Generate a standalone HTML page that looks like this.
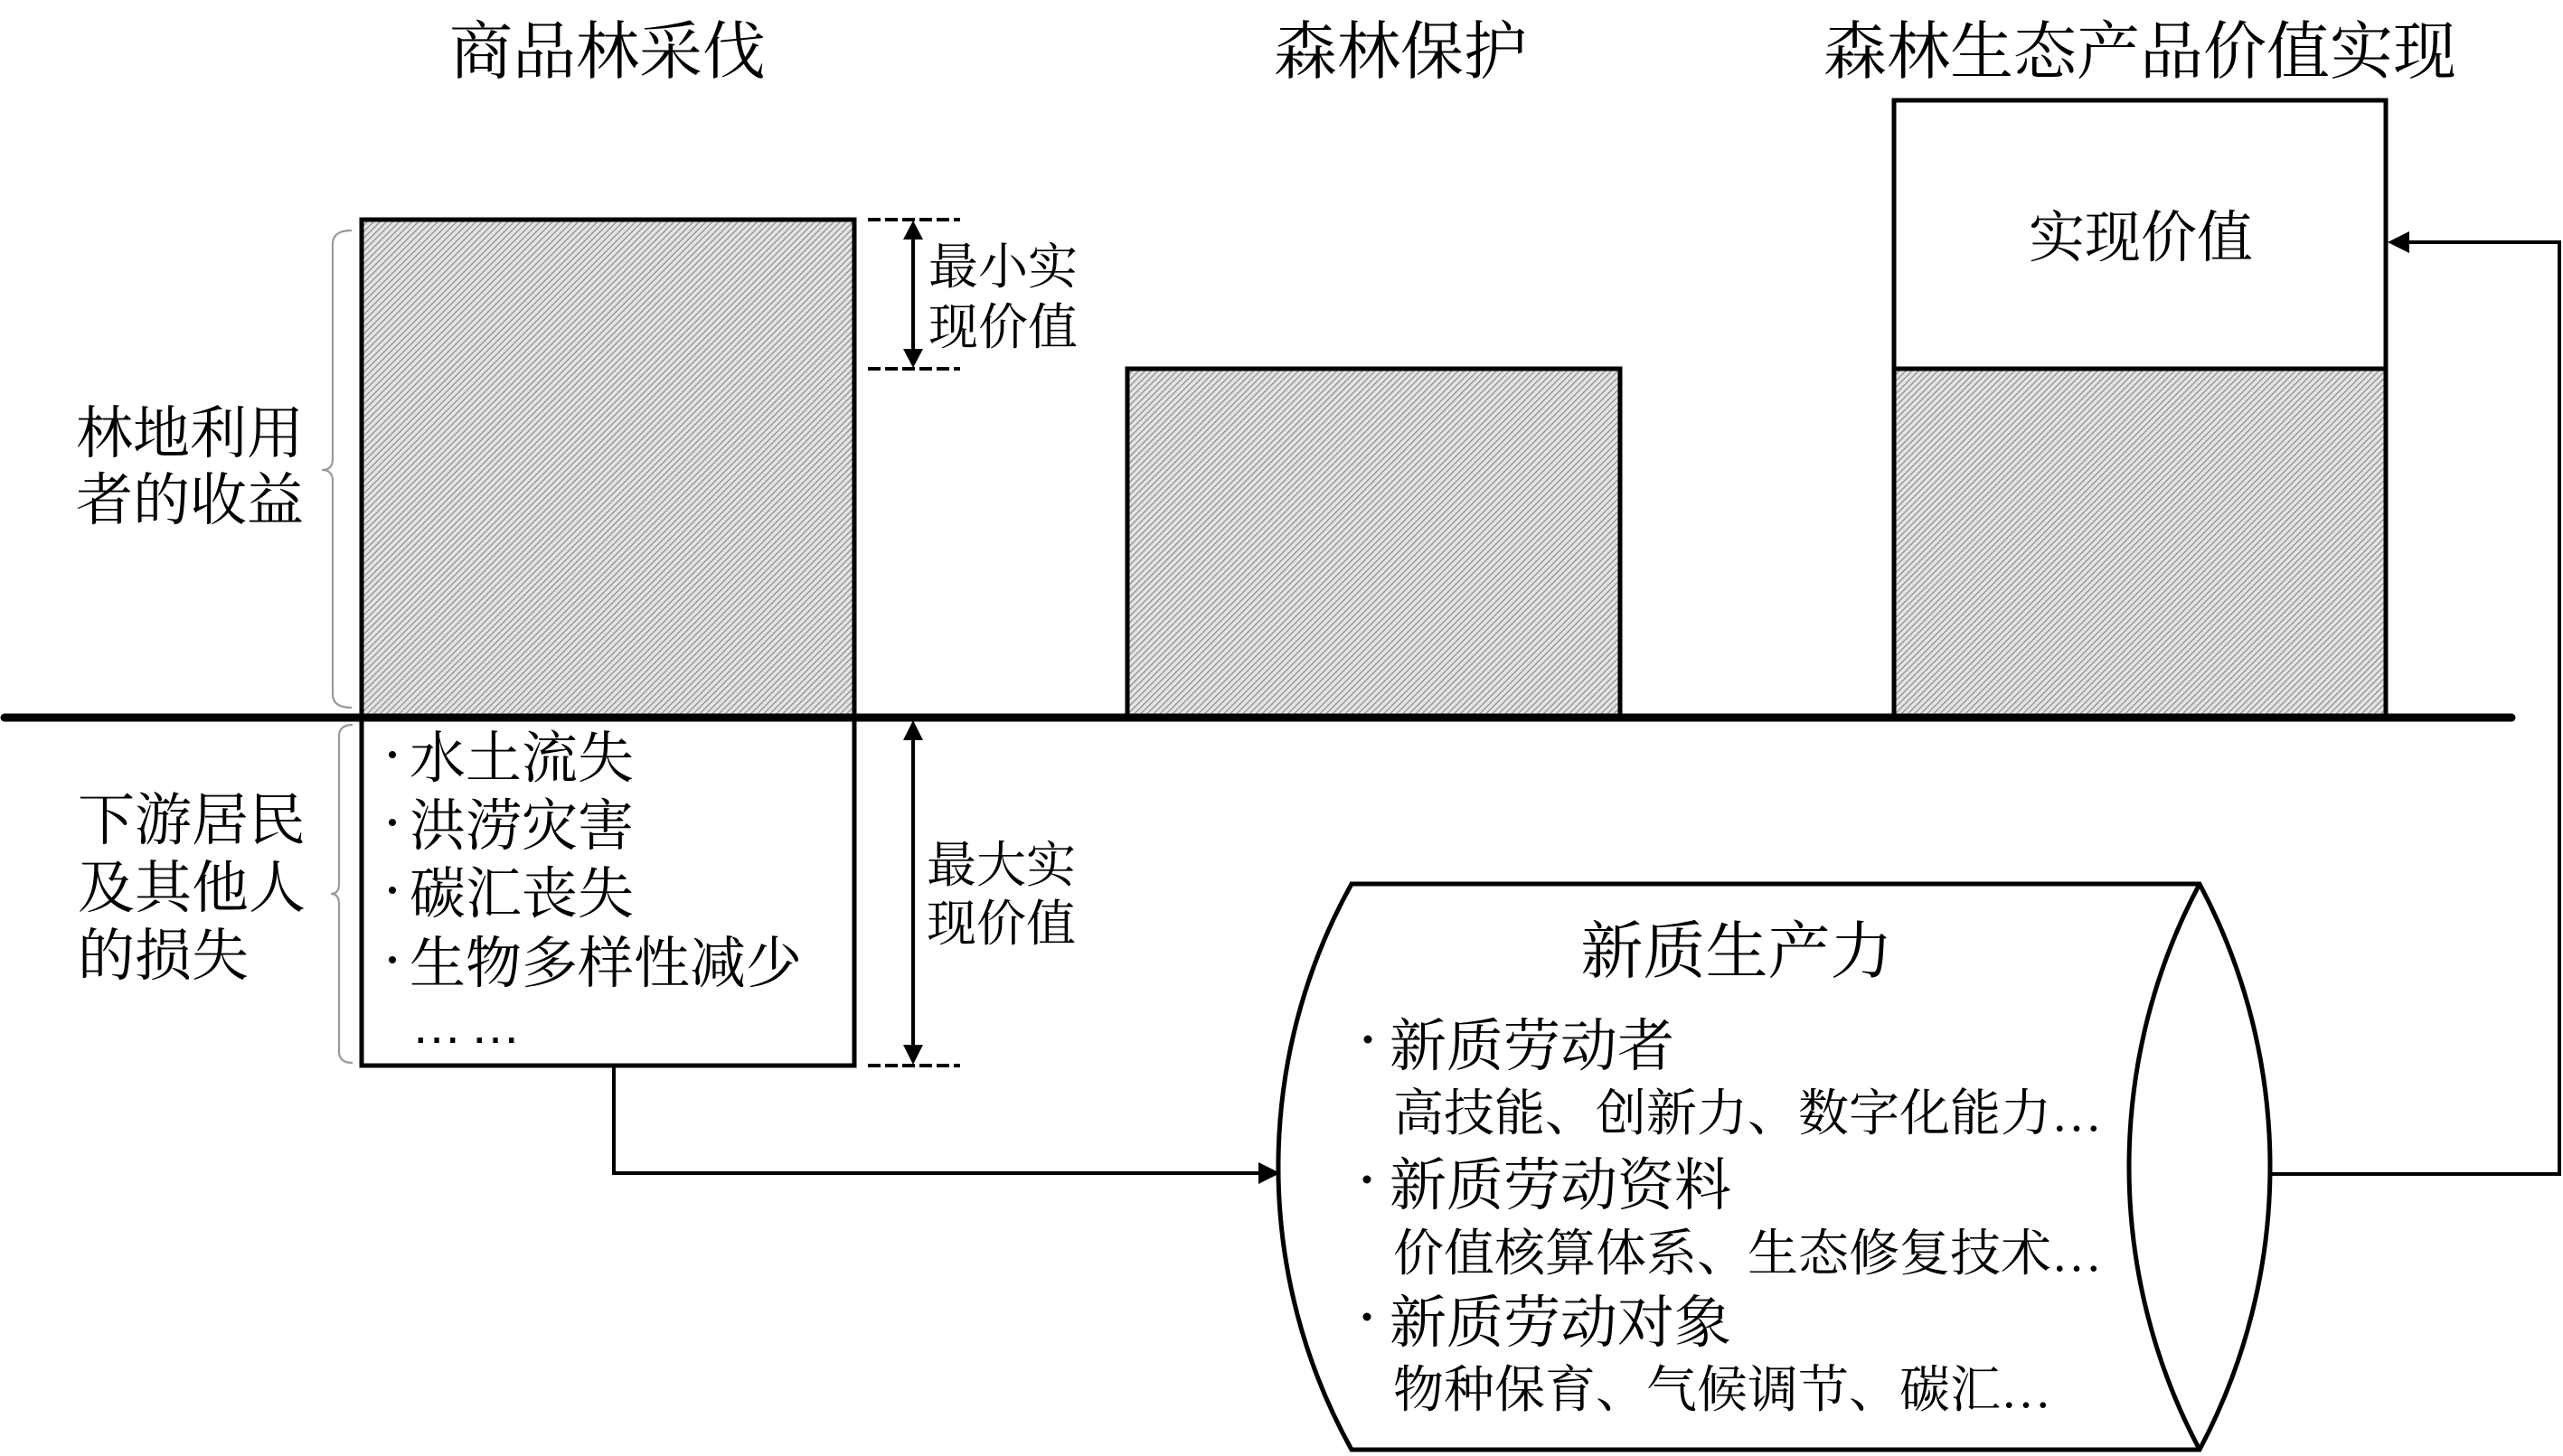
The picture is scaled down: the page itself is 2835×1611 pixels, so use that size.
<!DOCTYPE html>
<html>
<head>
<meta charset="utf-8">
<style>
  html, body { margin: 0; padding: 0; background: #ffffff; }
  svg { display: block; }
  .t { font-family: "Liberation Serif", "Noto Serif CJK SC", serif; fill: #000; }
</style>
</head>
<body>
<svg width="2835" height="1611" viewBox="0 0 2835 1611" xmlns="http://www.w3.org/2000/svg">
  <defs>
    <pattern id="hatch" patternUnits="userSpaceOnUse" width="5" height="5" patternTransform="rotate(45)">
      <rect x="0" y="0" width="5" height="5" fill="#e4e4e4"/>
      <rect x="0" y="0" width="1.4" height="5" fill="#959595"/>
    </pattern>
  </defs>

  <rect x="0" y="0" width="2835" height="1611" fill="#ffffff"/>

  <!-- Titles -->
  <text class="t" x="672" y="81" font-size="70" text-anchor="middle">商品林采伐</text>
  <text class="t" x="1549" y="81" font-size="70" text-anchor="middle">森林保护</text>
  <text class="t" x="2367" y="81" font-size="70" text-anchor="middle">森林生态产品价值实现</text>

  <!-- Box 1 upper (hatched) -->
  <rect x="400" y="243" width="545" height="551" fill="url(#hatch)" stroke="#000" stroke-width="5"/>
  <!-- Box 1 lower -->
  <rect x="400" y="794" width="545" height="385" fill="#fff" stroke="#000" stroke-width="5"/>

  <!-- Box 2 -->
  <rect x="1247" y="408" width="545" height="386" fill="url(#hatch)" stroke="#000" stroke-width="5"/>

  <!-- Box 3 -->
  <rect x="2095" y="111" width="544" height="297" fill="#fff" stroke="#000" stroke-width="5"/>
  <rect x="2095" y="408" width="544" height="386" fill="url(#hatch)" stroke="#000" stroke-width="5"/>
  <text class="t" x="2368" y="284" font-size="62" text-anchor="middle">实现价值</text>

  <!-- Baseline -->
  <line x1="5" y1="794" x2="2778" y2="794" stroke="#000" stroke-width="9" stroke-linecap="round"/>

  <!-- Braces -->
  <path d="M 389 255 Q 368 255 368 270 L 368 508 Q 368 520 356 520 Q 368 520 368 532 L 368 768 Q 368 783 389 783" fill="none" stroke="#9a9a9a" stroke-width="2.2"/>
  <path d="M 390 802 Q 375 802 375 815 L 375 978 Q 375 989 366 989 Q 375 989 375 1000 L 375 1163 Q 375 1176 390 1176" fill="none" stroke="#9a9a9a" stroke-width="2.2"/>

  <!-- Left labels -->
  <text class="t" x="84" y="501" font-size="63">林地利用</text>
  <text class="t" x="84" y="575" font-size="63">者的收益</text>
  <text class="t" x="86" y="929" font-size="63">下游居民</text>
  <text class="t" x="86" y="1004" font-size="63">及其他人</text>
  <text class="t" x="86" y="1079" font-size="63">的损失</text>

  <!-- Box 1 lower items -->
  <circle cx="434" cy="835" r="4"/>
  <circle cx="434" cy="910" r="4"/>
  <circle cx="434" cy="985" r="4"/>
  <circle cx="434" cy="1062" r="4"/>
  <text class="t" x="453" y="860" font-size="62">水土流失</text>
  <text class="t" x="453" y="935" font-size="62">洪涝灾害</text>
  <text class="t" x="453" y="1010" font-size="62">碳汇丧失</text>
  <text class="t" x="453" y="1087" font-size="62">生物多样性减少</text>
  <text x="455" y="1154" font-size="56" font-family="Liberation Sans, sans-serif" letter-spacing="9" fill="#000">……</text>

  <!-- Top dimension (最小实现价值) -->
  <line x1="960" y1="243" x2="1062" y2="243" stroke="#000" stroke-width="4" stroke-dasharray="14 5"/>
  <line x1="960" y1="408" x2="1062" y2="408" stroke="#000" stroke-width="4" stroke-dasharray="14 5"/>
  <line x1="1010" y1="260" x2="1010" y2="390" stroke="#000" stroke-width="4"/>
  <polygon points="1010,244 999,265 1021,265" fill="#000"/>
  <polygon points="1010,407 999,386 1021,386" fill="#000"/>
  <text class="t" x="1027" y="314" font-size="55">最小实</text>
  <text class="t" x="1027" y="381" font-size="55">现价值</text>

  <!-- Bottom dimension (最大实现价值) -->
  <line x1="960" y1="1179" x2="1062" y2="1179" stroke="#000" stroke-width="4" stroke-dasharray="14 5"/>
  <line x1="1010" y1="812" x2="1010" y2="1160" stroke="#000" stroke-width="4"/>
  <polygon points="1010,797 999,819 1021,819" fill="#000"/>
  <polygon points="1010,1178 999,1156 1021,1156" fill="#000"/>
  <text class="t" x="1025" y="976" font-size="55">最大实</text>
  <text class="t" x="1025" y="1041" font-size="55">现价值</text>

  <!-- Connector box1 -> cylinder -->
  <polyline points="679,1180 679,1298 1396,1298" fill="none" stroke="#000" stroke-width="4"/>
  <polygon points="1416,1298 1392,1286 1392,1310" fill="#000"/>

  <!-- Cylinder -->
  <path d="M 1495 978 L 2433 978 A 667 667 0 0 1 2433 1604 L 1495 1604 A 645 645 0 0 1 1495 978 Z" fill="#fff" stroke="#000" stroke-width="5" stroke-linejoin="miter"/>
  <path d="M 2433 978 A 667 667 0 0 0 2433 1604" fill="none" stroke="#000" stroke-width="5"/>

  <!-- Connector cylinder -> box3 -->
  <polyline points="2512,1299 2831,1299 2831,268 2662,268" fill="none" stroke="#000" stroke-width="4"/>
  <polygon points="2641,268 2665,256 2665,280" fill="#000"/>

  <!-- Cylinder text -->
  <text class="t" x="1921" y="1076" font-size="69" text-anchor="middle">新质生产力</text>
  <circle cx="1513" cy="1150" r="4.5"/>
  <circle cx="1512" cy="1305" r="4.5"/>
  <circle cx="1512" cy="1457" r="4.5"/>
  <text class="t" x="1537" y="1179" font-size="63">新质劳动者</text>
  <text class="t" x="1541" y="1251" font-size="56">高技能、创新力、数字化能力…</text>
  <text class="t" x="1537" y="1333" font-size="63">新质劳动资料</text>
  <text class="t" x="1541" y="1406" font-size="56">价值核算体系、生态修复技术…</text>
  <text class="t" x="1537" y="1485" font-size="63">新质劳动对象</text>
  <text class="t" x="1541" y="1557" font-size="56">物种保育、气候调节、碳汇…</text>
</svg>
</body>
</html>
